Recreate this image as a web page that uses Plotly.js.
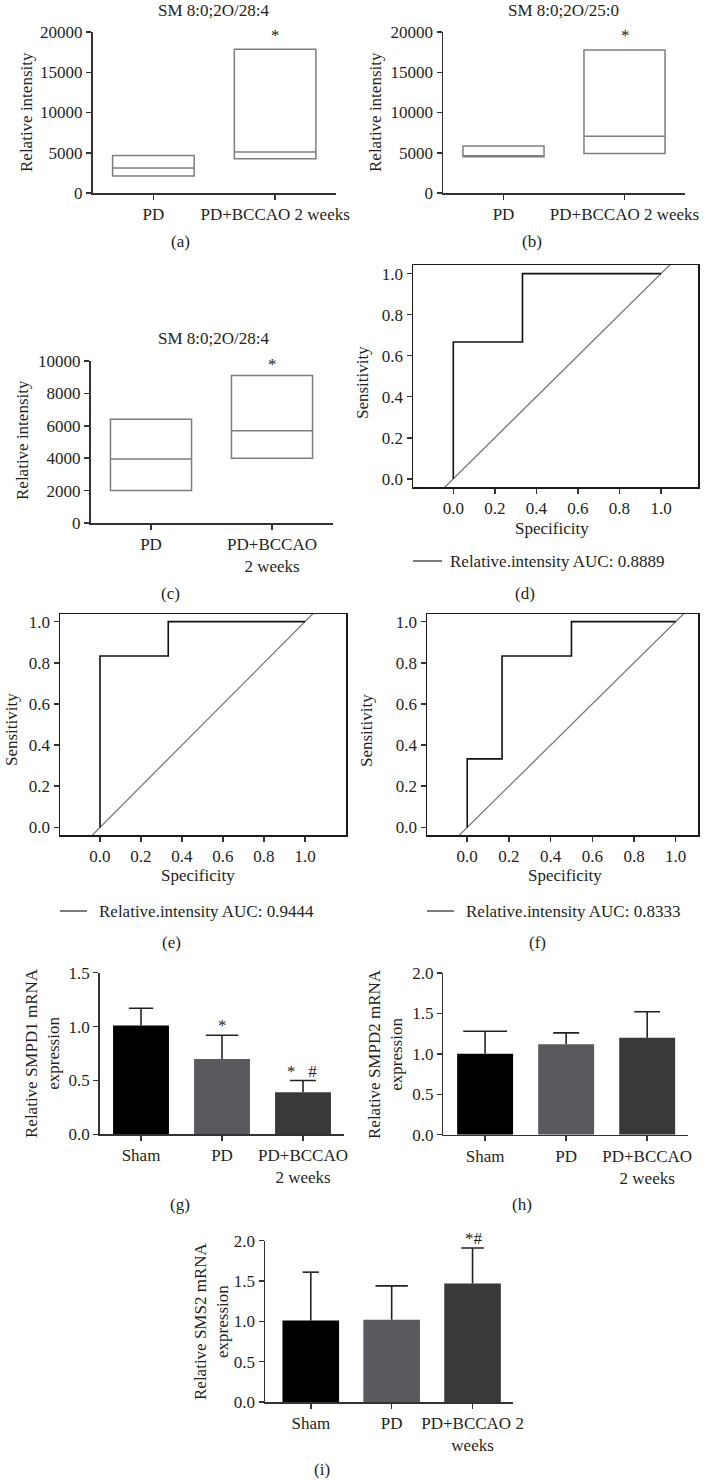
<!DOCTYPE html>
<html><head><meta charset="utf-8">
<script src="https://cdn.plot.ly/plotly-3.0.1.min.js"></script>
<style>html,body{margin:0;padding:0;background:#fff}#chart{width:713px;height:1480px}</style>
</head><body><div id="chart"></div>
<script>
// ---------- data ----------
const boxGroups = ['PD', 'PD+BCCAO 2 weeks'];
const boxGroupsWrapped = ['PD', 'PD+BCCAO<br>2 weeks'];
const boxTitles = ['SM 8:0;2O/28:4', 'SM 8:0;2O/25:0', 'SM 8:0;2O/28:4'];
const boxA_q1 = [2100, 4250];
const boxA_med = [3100, 5100];
const boxA_q3 = [4650, 17850];
const boxB_q1 = [4500, 4900];
const boxB_med = [4500, 7050];
const boxB_q3 = [5850, 17750];
const boxC_q1 = [2000, 4000];
const boxC_med = [3950, 5700];
const boxC_q3 = [6400, 9100];
const boxTicksAB = [0, 5000, 10000, 15000, 20000];
const boxTicksC = [0, 2000, 4000, 6000, 8000, 10000];

const rocD_spec = [0, 0, 0.333, 0.333, 1];
const rocD_sens = [0, 0.667, 0.667, 1, 1];
const rocE_spec = [0, 0, 0.333, 0.333, 1];
const rocE_sens = [0, 0.833, 0.833, 1, 1];
const rocF_spec = [0, 0, 0.167, 0.167, 0.5, 0.5, 1];
const rocF_sens = [0, 0.333, 0.333, 0.833, 0.833, 1, 1];
const aucValues = ['0.8889', '0.9444', '0.8333'];
const chanceLine = [-0.05, 1.1];
const rocTicks = [0, 0.2, 0.4, 0.6, 0.8, 1.0];

const mrnaGroups = ['Sham', 'PD', 'PD+BCCAO<br>2 weeks'];
const mrnaGroupsI = ['Sham', 'PD', 'PD+BCCAO 2<br>weeks'];
const smpd1Mean = [1.01, 0.70, 0.39];
const smpd1Err = [0.16, 0.22, 0.11];
const smpd2Mean = [1.00, 1.12, 1.20];
const smpd2Err = [0.28, 0.14, 0.32];
const sms2Mean = [1.01, 1.02, 1.47];
const sms2Err = [0.60, 0.42, 0.44];
const barColors = ['#000000', '#5a595d', '#383939'];

// ---------- helpers ----------
const W = 713, H = 1480;
const FONT = 'Liberation Serif, Times New Roman, serif';
const FS = 17;
const TXT = '#231f20';
const fx = p => p / W;
const fy = p => 1 - p / H;
const tickFont = {family: FONT, size: FS, color: TXT};
const layout = {
  width: W, height: H, margin: {l: 0, r: 0, t: 0, b: 0},
  paper_bgcolor: '#fff', plot_bgcolor: 'rgba(0,0,0,0)',
  showlegend: false, font: {family: FONT, size: FS, color: TXT},
  annotations: [], shapes: [], barmode: 'overlay'
};
const data = [];
function base(extra) {
  return Object.assign({showgrid: false, zeroline: false, showline: true, linecolor: '#333',
    linewidth: 1.5, ticks: 'outside', ticklen: 5, tickwidth: 1.5, tickcolor: '#333',
    tickfont: tickFont, fixedrange: true}, extra);
}
function addAxes(n, xpx, ypx, xo, yo) {
  const s = n === 1 ? '' : String(n);
  layout['xaxis' + s] = base(Object.assign({domain: [fx(xpx[0]), fx(xpx[1])], anchor: 'y' + s}, xo));
  layout['yaxis' + s] = base(Object.assign({domain: [fy(ypx[1]), fy(ypx[0])], anchor: 'x' + s}, yo));
}
function ann(text, x, y, o) {
  layout.annotations.push(Object.assign({text: text, xref: 'paper', yref: 'paper', x: fx(x), y: fy(y),
    xanchor: 'center', yanchor: 'middle', showarrow: false, font: {family: FONT, size: FS, color: TXT}}, o || {}));
}

// ---------- box panels (a, b, c) ----------
function addBox(n, q1, med, q3) {
  const s = n === 1 ? '' : String(n);
  data.push({type: 'box', x: [0, 1], q1: q1, median: med, q3: q3, lowerfence: q1, upperfence: q3,
    width: 0.67, whiskerwidth: 0, boxpoints: false, fillcolor: 'rgba(0,0,0,0)',
    line: {color: '#7d7d7d', width: 1.5}, xaxis: 'x' + s, yaxis: 'y' + s, hoverinfo: 'skip'});
}
addBox(1, boxA_q1, boxA_med, boxA_q3);
addBox(2, boxB_q1, boxB_med, boxB_q3);
addBox(3, boxC_q1, boxC_med, boxC_q3);
addAxes(1, [92.5, 336], [32, 193], {range: [-0.5, 1.5], tickvals: [0, 1], ticktext: boxGroups},
  {range: [0, 20000], tickvals: boxTicksAB, tickformat: 'd'});
addAxes(2, [443, 685], [32, 193], {range: [-0.5, 1.5], tickvals: [0, 1], ticktext: boxGroups},
  {range: [0, 20000], tickvals: boxTicksAB, tickformat: 'd'});
addAxes(3, [90.5, 332.5], [361, 523], {range: [-0.5, 1.5], tickvals: [0, 1], ticktext: boxGroupsWrapped},
  {range: [0, 10000], tickvals: boxTicksC, tickformat: 'd'});
ann(boxTitles[0], 213, 11);
ann(boxTitles[1], 563, 11);
ann(boxTitles[2], 213, 338);
ann('Relative intensity', 26, 112, {textangle: -90});
ann('Relative intensity', 375, 112, {textangle: -90});
ann('Relative intensity', 22, 440, {textangle: -90});
ann('*', 275, 35);
ann('*', 625, 35);
ann('*', 272, 364);
ann('(a)', 180, 241);
ann('(b)', 532, 241);
ann('(c)', 170, 593);

// ---------- ROC panels (d, e, f) ----------
function addRoc(n, xs, ys) {
  const s = String(n);
  data.push({type: 'scatter', mode: 'lines', x: chanceLine, y: chanceLine, line: {color: '#7a7a7a', width: 1.3},
    xaxis: 'x' + s, yaxis: 'y' + s, hoverinfo: 'skip'});
  data.push({type: 'scatter', mode: 'lines', x: xs, y: ys, line: {color: '#111', width: 1.6},
    xaxis: 'x' + s, yaxis: 'y' + s, hoverinfo: 'skip'});
}
addRoc(4, rocD_spec, rocD_sens);
addRoc(5, rocE_spec, rocE_sens);
addRoc(6, rocF_spec, rocF_sens);
const rocX = r => ({range: r, tickvals: rocTicks, tickformat: '.1f', mirror: true, linecolor: '#1a1a1a'});
const rocY = r => ({range: r, tickvals: rocTicks, tickformat: '.1f', mirror: true, linecolor: '#1a1a1a'});
addAxes(4, [413, 698], [265, 487], rocX([-0.194, 1.178]), rocY([-0.04, 1.042]));
addAxes(5, [60, 346], [614, 835], rocX([-0.195, 1.2]), rocY([-0.037, 1.037]));
addAxes(6, [427, 698], [614, 835], rocX([-0.193, 1.107]), rocY([-0.037, 1.037]));
ann('Sensitivity', 362, 383, {textangle: -90});
ann('Sensitivity', 12, 730, {textangle: -90});
ann('Sensitivity', 367, 730, {textangle: -90});
ann('Specificity', 552, 528);
ann('Specificity', 198, 876);
ann('Specificity', 565, 876);
const legendSpots = [[413, 442, 448, 561], [60, 87, 97, 911], [427, 454, 464, 911]];
legendSpots.forEach((p, i) => {
  layout.shapes.push({type: 'line', xref: 'paper', yref: 'paper', x0: fx(p[0]), x1: fx(p[1]),
    y0: fy(p[3]), y1: fy(p[3]), line: {color: '#222', width: 1.2}});
  ann('Relative.intensity AUC: ' + aucValues[i], p[2], p[3], {xanchor: 'left'});
});
ann('(d)', 525, 593);
ann('(e)', 171, 942);
ann('(f)', 537, 942);

// ---------- bar panels (g, h, i) ----------
function addBars(n, means, errs, capHalf, bw) {
  const s = String(n);
  means.forEach((m, i) => {
    data.push({type: 'bar', x: [i], y: [m], width: bw, marker: {color: barColors[i], line: {width: 0}},
      xaxis: 'x' + s, yaxis: 'y' + s, hoverinfo: 'skip'});
    // one-sided error bar (stem + cap) drawn through the axes
    const top = m + errs[i];
    data.push({type: 'scatter', mode: 'lines',
      x: [i, i, null, i - capHalf[i], i + capHalf[i]],
      y: [m, top, null, top, top],
      line: {color: '#222', width: 1.6}, xaxis: 'x' + s, yaxis: 'y' + s, hoverinfo: 'skip'});
  });
}
addBars(7, smpd1Mean, smpd1Err, [0.15, 0.20, 0.16], 0.69);
addBars(8, smpd2Mean, smpd2Err, [0.27, 0.16, 0.16], 0.69);
addBars(9, sms2Mean, sms2Err, [0.10, 0.20, 0.14], 0.70);
addAxes(7, [99.7, 343.5], [972.7, 1134.3], {range: [-0.51, 2.5], tickvals: [0, 1, 2], ticktext: mrnaGroups},
  {range: [0, 1.5], tickvals: [0, 0.5, 1, 1.5], tickformat: '.1f'});
addAxes(8, [443.3, 687.7], [973, 1134.7], {range: [-0.516, 2.5], tickvals: [0, 1, 2], ticktext: mrnaGroups},
  {range: [0, 2], tickvals: [0, 0.5, 1, 1.5, 2], tickformat: '.1f'});
addAxes(9, [265, 513], [1240.7, 1402], {range: [-0.566, 2.5], tickvals: [0, 1, 2], ticktext: mrnaGroupsI},
  {range: [0, 2], tickvals: [0, 0.5, 1, 1.5, 2], tickformat: '.1f'});
ann('Relative SMPD1 mRNA<br>expression', 42, 1053, {textangle: -90});
ann('Relative SMPD2 mRNA<br>expression', 385, 1054, {textangle: -90});
ann('Relative SMS2 mRNA<br>expression', 211, 1321, {textangle: -90});
ann('*', 222, 1025);
ann('*&nbsp;&nbsp;&nbsp;#', 302, 1071);
ann('*#', 474, 1238);
ann('(g)', 180, 1204);
ann('(h)', 522, 1204);
ann('(i)', 322, 1469);

Plotly.newPlot('chart', data, layout, {staticPlot: true, displayModeBar: false});
</script>
</body></html>
